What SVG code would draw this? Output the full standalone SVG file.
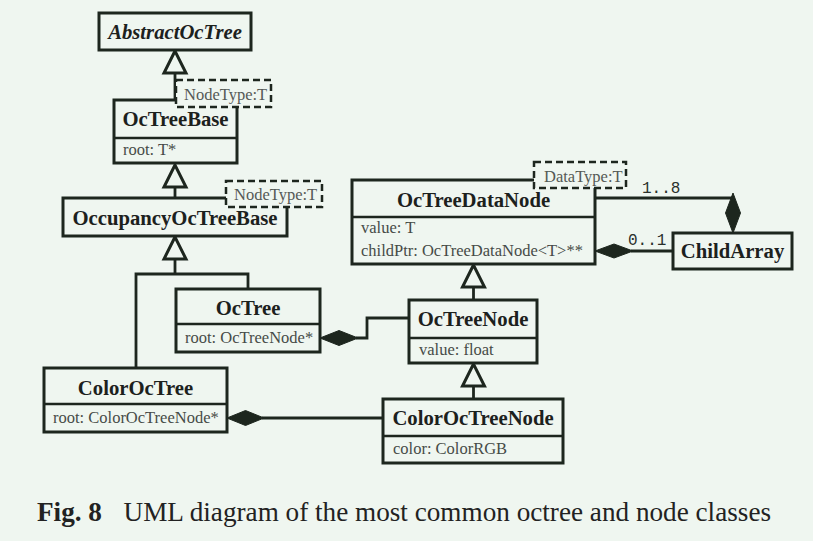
<svg xmlns="http://www.w3.org/2000/svg" width="813" height="541" viewBox="0 0 813 541">
<style>
  .box{fill:#eff6f0;stroke:#1d261e;stroke-width:3}
  .div{stroke:#1d261e;stroke-width:2.5}
  .tmpl{fill:#eff6f0;stroke:#1d261e;stroke-width:2.5;stroke-dasharray:7 4}
  .title{font-family:"Liberation Serif","Times New Roman",serif;font-weight:bold;font-size:20.7px;fill:#1c211d;text-anchor:middle}
  .attr{font-family:"Liberation Serif","Times New Roman",serif;font-size:16.5px;fill:#464b47}
  .tlabel{font-family:"Liberation Serif","Times New Roman",serif;font-size:16.5px;fill:#555a56}
  .mult{font-family:"Liberation Mono","Courier New",monospace;font-size:16px;fill:#2a302b}
  .line{fill:none;stroke:#1d261e;stroke-width:2.8}
  .tri{fill:#eff6f0;stroke:#1d261e;stroke-width:3;stroke-linejoin:miter}
  .dia{fill:#1d261e;stroke:#1d261e;stroke-width:1}
  .cap{font-family:"Liberation Serif","Times New Roman",serif;font-size:27.2px;fill:#222}
</style>
<rect x="0" y="0" width="813" height="541" fill="#eff6f0"/>

<g id="connectors">
  <!-- generalizations -->
  <line class="line" x1="175" y1="73" x2="175" y2="100"/>
  <polygon class="tri" points="175,51 164,73 186,73"/>
  <line class="line" x1="175" y1="187" x2="175" y2="198"/>
  <polygon class="tri" points="175,165 164,187 186,187"/>
  <line class="line" x1="175" y1="259" x2="175" y2="274"/>
  <path class="line" d="M136,368 V274 H248 V289"/>
  <polygon class="tri" points="175,237 164,259 186,259"/>
  <line class="line" x1="473.5" y1="287" x2="473.5" y2="300"/>
  <polygon class="tri" points="473.5,265 462.5,287 484.5,287"/>
  <line class="line" x1="473.5" y1="386" x2="473.5" y2="399"/>
  <polygon class="tri" points="473.5,364 462.5,386 484.5,386"/>
  <!-- compositions -->
  <path class="line" d="M356,338 H367 V318 H409"/>
  <polygon class="dia" points="320,338 339,330.5 358,338 339,345.5"/>
  <line class="line" x1="262" y1="418" x2="383" y2="418"/>
  <polygon class="dia" points="227,418 245.5,410.5 264,418 245.5,425.5"/>
  <path class="line" d="M595,198 H733 V200"/>
  <polygon class="dia" points="733,193 740.5,213 733,233 725.5,213"/>
  <line class="line" x1="631" y1="251" x2="673" y2="251"/>
  <polygon class="dia" points="595,251 614,244 633,251 614,258"/>
  <text class="mult" x="642" y="193">1..8</text>
  <text class="mult" x="628" y="245">0..1</text>
</g>

<g id="AbstractOcTree">
  <rect class="box" x="99" y="13" width="152" height="37"/>
  <text class="title" x="175" y="39" font-style="italic">AbstractOcTree</text>
</g>

<g id="OcTreeBase">
  <rect class="box" x="114" y="100" width="123" height="63"/>
  <line class="div" x1="114" y1="138" x2="237" y2="138"/>
  <text class="title" x="175.5" y="126">OcTreeBase</text>
  <text class="attr" x="123" y="155">root: T*</text>
  <rect class="tmpl" x="176" y="80" width="95" height="27"/>
  <text class="tlabel" x="184" y="100">NodeType:T</text>
</g>

<g id="OccupancyOcTreeBase">
  <rect class="box" x="63" y="198" width="224" height="38"/>
  <text class="title" x="175" y="225">OccupancyOcTreeBase</text>
  <rect class="tmpl" x="226" y="181" width="96" height="26"/>
  <text class="tlabel" x="234" y="200">NodeType:T</text>
</g>

<g id="OcTree">
  <rect class="box" x="176" y="289" width="144" height="63"/>
  <line class="div" x1="176" y1="324" x2="320" y2="324"/>
  <text class="title" x="248" y="315">OcTree</text>
  <text class="attr" x="185" y="343">root: OcTreeNode*</text>
</g>

<g id="ColorOcTree">
  <rect class="box" x="44" y="368" width="183" height="64"/>
  <line class="div" x1="44" y1="404" x2="227" y2="404"/>
  <text class="title" x="135.5" y="395">ColorOcTree</text>
  <text class="attr" x="53" y="423">root: ColorOcTreeNode*</text>
</g>

<g id="OcTreeDataNode">
  <rect class="box" x="352" y="180" width="243" height="84"/>
  <line class="div" x1="352" y1="217" x2="595" y2="217"/>
  <text class="title" x="473.5" y="207">OcTreeDataNode</text>
  <text class="attr" x="361" y="233">value: T</text>
  <text class="attr" x="361" y="256">childPtr: OcTreeDataNode&lt;T&gt;**</text>
  <rect class="tmpl" x="534" y="162" width="92" height="26"/>
  <text class="tlabel" x="544" y="182">DataType:T</text>
</g>

<g id="ChildArray">
  <rect class="box" x="673" y="233" width="119" height="36"/>
  <text class="title" x="732.5" y="258">ChildArray</text>
</g>

<g id="OcTreeNode">
  <rect class="box" x="409" y="300" width="128" height="63"/>
  <line class="div" x1="409" y1="338" x2="537" y2="338"/>
  <text class="title" x="473" y="326">OcTreeNode</text>
  <text class="attr" x="419" y="355">value: float</text>
</g>

<g id="ColorOcTreeNode">
  <rect class="box" x="383" y="399" width="180" height="64"/>
  <line class="div" x1="383" y1="436" x2="563" y2="436"/>
  <text class="title" x="473" y="425">ColorOcTreeNode</text>
  <text class="attr" x="393" y="454">color: ColorRGB</text>
</g>

<g id="caption">
  <text class="cap" x="37" y="521" font-weight="bold" font-size="28.3px">Fig. 8</text>
  <text class="cap" x="123.5" y="521">UML diagram of the most common octree and node classes</text>
</g>
</svg>
